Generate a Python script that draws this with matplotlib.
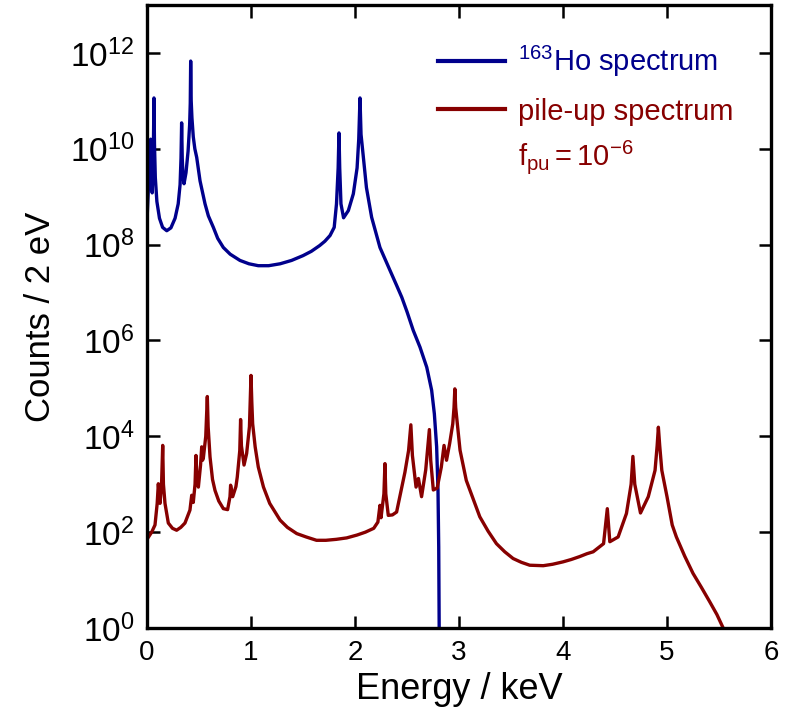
import matplotlib
matplotlib.use('Agg')
import matplotlib.pyplot as plt
from matplotlib.ticker import FixedLocator, FuncFormatter, NullLocator
import numpy as np

plt.rcParams['font.family'] = ['Liberation Sans', 'DejaVu Sans']
plt.rcParams['mathtext.fontset'] = 'custom'
plt.rcParams['mathtext.rm'] = 'Liberation Sans'
plt.rcParams['mathtext.it'] = 'Liberation Sans'

###############################################################################
# Data: energy in keV, counts given as log10
ho_energy = [0.0, 0.008, 0.018, 0.028, 0.035, 0.04, 0.045, 0.05, 0.056, 0.062,
             0.067, 0.072, 0.08, 0.095, 0.12, 0.15, 0.19, 0.23, 0.27, 0.30,
             0.318, 0.327, 0.333, 0.339, 0.347, 0.356, 0.375, 0.395, 0.41, 0.416,
             0.42, 0.425, 0.432, 0.445, 0.46, 0.478, 0.51, 0.558, 0.59, 0.638,
             0.68, 0.734, 0.8, 0.894, 0.98, 1.07, 1.17, 1.28, 1.39, 1.50,
             1.58, 1.66, 1.71, 1.76, 1.80, 1.822, 1.838, 1.846, 1.853, 1.865,
             1.89, 1.936, 1.984, 2.02, 2.036, 2.048, 2.058, 2.074, 2.11, 2.16,
             2.24, 2.337, 2.40, 2.45, 2.50, 2.56, 2.625, 2.69, 2.737, 2.763,
             2.785, 2.798, 2.805, 2.812]
ho_log = [8.5, 8.9, 9.4, 9.9, 10.2, 9.7, 9.3, 9.08, 9.5, 10.1,
          11.06, 10.1, 9.4, 8.9, 8.55, 8.36, 8.29, 8.35, 8.55, 8.85,
          9.25, 9.8, 10.54, 9.8, 9.4, 9.27, 9.5, 9.95, 10.5, 10.95,
          11.83, 11.0, 10.65, 10.25, 10.0, 9.82, 9.33, 8.85, 8.6, 8.36,
          8.13, 7.94, 7.8, 7.67, 7.6, 7.56, 7.56, 7.6, 7.67, 7.77,
          7.86, 7.98, 8.07, 8.19, 8.36, 8.85, 9.6, 10.33, 9.6, 8.85,
          8.56, 8.71, 9.06, 9.6, 10.2, 11.06, 10.3, 9.96, 9.19, 8.57,
          7.94, 7.46, 7.15, 6.9, 6.6, 6.21, 5.86, 5.44, 4.96, 4.47,
          3.78, 2.88, 1.69, -1.0]

pu_energy = [0.0, 0.045, 0.077, 0.098, 0.109, 0.118, 0.125, 0.14, 0.151, 0.158,
             0.173, 0.205, 0.245, 0.285, 0.325, 0.365, 0.413, 0.43, 0.445, 0.462,
             0.471, 0.48, 0.494, 0.515, 0.526, 0.534, 0.542, 0.565, 0.58, 0.588,
             0.606, 0.63, 0.654, 0.69, 0.734, 0.775, 0.798, 0.804, 0.824, 0.855,
             0.868, 0.892, 0.90, 0.908, 0.933, 0.958, 0.985, 1.0, 1.008, 1.016,
             1.04, 1.07, 1.12, 1.18, 1.28, 1.35, 1.44, 1.53, 1.63, 1.72,
             1.82, 1.92, 2.02, 2.10, 2.18, 2.22, 2.24, 2.25, 2.278, 2.288,
             2.296, 2.32, 2.36, 2.40, 2.48, 2.515, 2.537, 2.552, 2.587, 2.61,
             2.64, 2.68, 2.715, 2.728, 2.753, 2.79, 2.83, 2.856, 2.88, 2.91,
             2.94, 2.952, 2.96, 2.968, 2.984, 3.01, 3.07, 3.14, 3.20, 3.28,
             3.36, 3.44, 3.52, 3.60, 3.68, 3.81, 3.90, 4.00, 4.08, 4.16,
             4.23, 4.29, 4.39, 4.426, 4.45, 4.53, 4.61, 4.655, 4.672, 4.69,
             4.745, 4.82, 4.885, 4.905, 4.917, 4.93, 4.95, 5.0, 5.05, 5.09,
             5.17, 5.25, 5.33, 5.41, 5.48, 5.54, 5.6]
pu_log = [1.85, 2.0, 2.15, 2.6, 3.01, 2.75, 2.6, 3.0, 3.81, 3.0,
          2.6, 2.19, 2.08, 2.04, 2.1, 2.19, 2.46, 2.77, 2.62, 3.0,
          3.6, 3.1, 2.94, 3.4, 3.78, 3.5, 3.55, 4.0, 4.83, 4.2,
          3.57, 3.1, 2.87, 2.65, 2.49, 2.47, 2.74, 2.98, 2.74, 2.95,
          3.15, 3.7, 4.35, 3.8, 3.4, 3.64, 4.2, 5.27, 4.7, 4.26,
          3.78, 3.36, 2.94, 2.6, 2.25, 2.1, 1.97, 1.9, 1.83, 1.83,
          1.85, 1.88, 1.94, 2.0, 2.08, 2.21, 2.56, 2.3, 2.8, 3.43,
          2.8, 2.35, 2.36, 2.42, 3.25, 3.7, 4.24, 3.6, 2.94, 3.12,
          2.74, 3.3, 4.14, 3.5, 2.88, 2.92, 3.36, 3.81, 3.5, 3.85,
          4.26, 4.6, 4.99, 4.6, 4.26, 3.71, 3.08, 2.67, 2.32, 2.02,
          1.76, 1.59, 1.45, 1.37, 1.31, 1.30, 1.33, 1.38, 1.43, 1.49,
          1.55, 1.59, 1.76, 2.49, 1.80, 1.90, 2.39, 3.0, 3.58, 3.0,
          2.40, 2.74, 3.29, 3.8, 4.19, 3.8, 3.29, 2.74, 2.15, 1.90,
          1.5, 1.14, 0.85, 0.55, 0.28, 0.0, -0.3]

ytick_exp = [0, 2, 4, 6, 8, 10, 12]
xticks = [0, 1, 2, 3, 4, 5, 6]

blue = '#00008c'
red = '#870000'
###############################################################################
fig = plt.figure(figsize=(7.92, 7.25), dpi=100)
ax = fig.add_axes([0.1856, 0.1338, 0.7879, 0.8593])

ax.plot(ho_energy, 10.0 ** np.array(ho_log), color=blue, lw=2.4,
        label='$\\mathregular{^{163}}$Ho spectrum')
ax.plot(pu_energy, 10.0 ** np.array(pu_log), color=red, lw=2.4,
        label='pile-up spectrum')

ax.set_yscale('log')
ax.set_xlim(0, 6)
ax.set_ylim(1, 1e13)
ax.xaxis.set_major_locator(FixedLocator(xticks))
ax.yaxis.set_major_locator(FixedLocator([10.0 ** e for e in ytick_exp]))
ax.yaxis.set_minor_locator(NullLocator())
ax.yaxis.set_major_formatter(FuncFormatter(
    lambda v, p: '$\\mathregular{10^{%d}}$' % round(np.log10(v))))

ax.tick_params(direction='in', length=9, width=1.8, labelsize=20,
               top=True, right=True, pad=9)
ax.tick_params(axis='y', labelsize=24)
for s in ax.spines.values():
    s.set_linewidth(2.4)

ax.set_xlabel('Energy / keV', fontsize=26, labelpad=4)
ax.set_ylabel('Counts / 2 eV', fontsize=25, labelpad=9)

leg = ax.legend(loc='upper left', bbox_to_anchor=(0.466, 0.937), frameon=False,
                fontsize=21, handlelength=2.3, handletextpad=0.45,
                labelspacing=0.62, borderpad=0, borderaxespad=0,
                labelcolor='linecolor')
for h in leg.get_lines():
    h.set_linewidth(3)

ax.text(0.595, 0.756, '$\\mathregular{f_{pu}=10^{-6}}$', color=red,
        fontsize=21, transform=ax.transAxes, va='center', ha='left')

fig.savefig('out.png', dpi=100)
